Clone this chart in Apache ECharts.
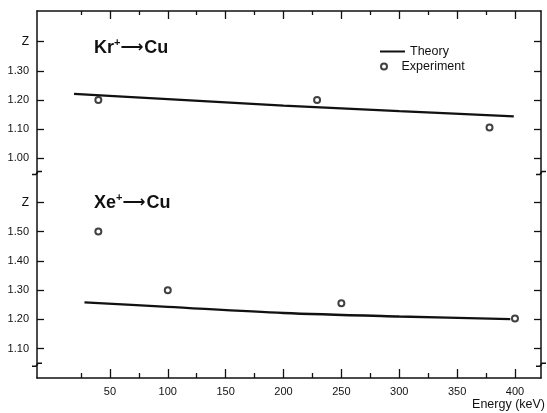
<!DOCTYPE html>
<html><head><meta charset="utf-8">
<script src="https://cdn.jsdelivr.net/npm/echarts@6/dist/echarts.min.js"></script>
<style>html,body{margin:0;padding:0;background:#fff}#c{width:547px;height:413px}</style>
</head><body><div id="c"></div>
<script>
// ---- data ----
const xMajorTicks = [50, 100, 150, 200, 250, 300, 350, 400];
const xMinorTicks = [25, 75, 125, 175, 225, 275, 325, 375];
const krTicks = [1.00, 1.10, 1.20, 1.30, 1.40];   // 1.40 position labelled "Z"
const xeTicks = [1.10, 1.20, 1.30, 1.40, 1.50, 1.60]; // 1.60 position labelled "Z"

const krTheoryE = [19, 100, 200, 300, 399];
const krTheoryZ = [1.221, 1.203, 1.181, 1.162, 1.144];
const krExpE = [40, 229, 378];
const krExpZ = [1.20, 1.20, 1.106];

const xeTheoryE = [28, 100, 200, 300, 396];
const xeTheoryZ = [1.258, 1.243, 1.222, 1.210, 1.201];
const xeExpE = [40, 100, 250, 400];
const xeExpZ = [1.50, 1.30, 1.255, 1.203];

const zip = (a, b) => a.map((v, i) => [v, b[i]]);
const C = '#111';
const FONT = 'Liberation Sans';
const xMin = -13, xMax = 422.5;

function xAx(gridIndex, pos, ticks, len, labels) {
  return {
    type: 'value', gridIndex, position: pos, min: xMin, max: xMax,
    axisLine: { show: labels !== null, lineStyle: { color: C, width: 1.5 } },
    axisTick: { show: true, inside: true, length: len, customValues: ticks, lineStyle: { color: C, width: 1.3 } },
    axisLabel: labels ? { show: true, customValues: labels, margin: 8, color: C, fontSize: 11, fontFamily: FONT } : { show: false },
    splitLine: { show: false }
  };
}
function yAx(gridIndex, pos, min, max, ticks, zVal, showLabels) {
  return {
    type: 'value', gridIndex, position: pos, min, max,
    axisLine: { show: true, onZero: false, lineStyle: { color: C, width: 1.5 } },
    axisTick: { show: true, inside: true, length: 7, customValues: ticks, lineStyle: { color: C, width: 1.3 } },
    axisLabel: showLabels ? {
      show: true, customValues: ticks, margin: 8, color: C, fontSize: 11, fontFamily: FONT,
      formatter: v => Math.abs(v - zVal) < 1e-6 ? '{z|Z}' : v.toFixed(2),
      rich: { z: { fontSize: 12, color: C, fontFamily: FONT } }
    } : { show: false },
    splitLine: { show: false }
  };
}

const chart = echarts.init(document.getElementById('c'), null, { renderer: 'canvas' });
const titleRich = {
  m: { fontSize: 18, fontWeight: 'bold', fontFamily: FONT, color: C, lineHeight: 22 },
  a: { fontSize: 16, fontWeight: 'bold', fontFamily: 'DejaVu Sans', color: C, lineHeight: 22, padding: [0, 1, 0, 0] },
  s: { fontSize: 11, fontWeight: 'bold', fontFamily: FONT, color: C, verticalAlign: 'top', lineHeight: 12, padding: [0, 0, 8, 0] }
};
chart.setOption({
  animation: false,
  backgroundColor: '#fff',
  textStyle: { fontFamily: FONT },
  title: [
    { text: '{m|Kr}{s|+}{a|⟶}{m|Cu}', left: 94, top: 37, padding: 0, textStyle: { rich: titleRich } },
    { text: '{m|Xe}{s|+}{a|⟶}{m|Cu}', left: 94, top: 192, padding: 0, textStyle: { rich: titleRich } },
    { text: 'Energy (keV)', right: 2, top: 398, padding: 0, textStyle: { fontSize: 12.5, fontWeight: 'normal', color: C, fontFamily: FONT } }
  ],
  legend: [
    { data: [{ name: 'Theory', icon: 'rect' }], left: 380, top: 45, padding: 0, itemWidth: 25, itemHeight: 2,
      selectedMode: false, textStyle: { fontSize: 12.5, color: C, fontFamily: FONT } },
    { data: [{ name: 'Experiment', icon: 'emptyCircle' }], left: 380, top: 60, padding: 0, itemWidth: 25, itemHeight: 6,
      selectedMode: false, textStyle: { fontSize: 12.5, color: C, fontFamily: FONT } }
  ],
  grid: [
    { left: 37, right: 6, top: 11, height: 162 },
    { left: 37, right: 6, top: 173, bottom: 35 }
  ],
  xAxis: [
    xAx(1, 'bottom', xMajorTicks, 9, xMajorTicks),
    xAx(1, 'bottom', xMinorTicks, 5, null),
    xAx(0, 'top', xMajorTicks, 8, false),
    xAx(0, 'top', xMinorTicks, 4, null)
  ],
  yAxis: [
    yAx(0, 'left', 0.95, 1.505, krTicks, 1.40, true),
    yAx(0, 'right', 0.95, 1.505, krTicks, 1.40, false),
    yAx(1, 'left', 1.00, 1.70, xeTicks, 1.60, true),
    yAx(1, 'right', 1.00, 1.70, xeTicks, 1.60, false)
  ],
  series: [
    { name: 'Theory', type: 'line', xAxisIndex: 2, yAxisIndex: 0, data: zip(krTheoryE, krTheoryZ),
      smooth: 0.3, showSymbol: false, lineStyle: { color: C, width: 2.3 }, itemStyle: { color: C } },
    { name: 'Experiment', type: 'scatter', xAxisIndex: 2, yAxisIndex: 0, data: zip(krExpE, krExpZ),
      symbol: 'emptyCircle', symbolSize: 6, itemStyle: { color: C, borderColor: C, borderWidth: 1.6 } },
    { name: 'Theory', type: 'line', xAxisIndex: 0, yAxisIndex: 2, data: zip(xeTheoryE, xeTheoryZ),
      smooth: 0.3, showSymbol: false, lineStyle: { color: C, width: 2.3 }, itemStyle: { color: C } },
    { name: 'Experiment', type: 'scatter', xAxisIndex: 0, yAxisIndex: 2, data: zip(xeExpE, xeExpZ),
      symbol: 'emptyCircle', symbolSize: 6, itemStyle: { color: C, borderColor: C, borderWidth: 1.6 } }
  ]
});

// axis-break marks on the frame (decoration)
const leftX = chart.convertToPixel({ xAxisIndex: 0 }, xMin);
const rightX = chart.convertToPixel({ xAxisIndex: 0 }, xMax);
const yBreak1 = chart.convertToPixel({ yAxisIndex: 0 }, 0.95);
const yBreak2 = chart.convertToPixel({ yAxisIndex: 2 }, 1.045);
const brk = (x, y) => ({
  type: 'polyline', silent: true,
  shape: { points: [[x - 5, y + 1.5], [x - 1, y + 1.5], [x + 1, y - 1.5], [x + 5, y - 1.5]] },
  style: { stroke: C, lineWidth: 1.5, fill: null }
});
chart.setOption({
  graphic: [brk(leftX, yBreak1), brk(leftX, yBreak2), brk(rightX, yBreak1), brk(rightX, yBreak2)]
});
</script></body></html>
